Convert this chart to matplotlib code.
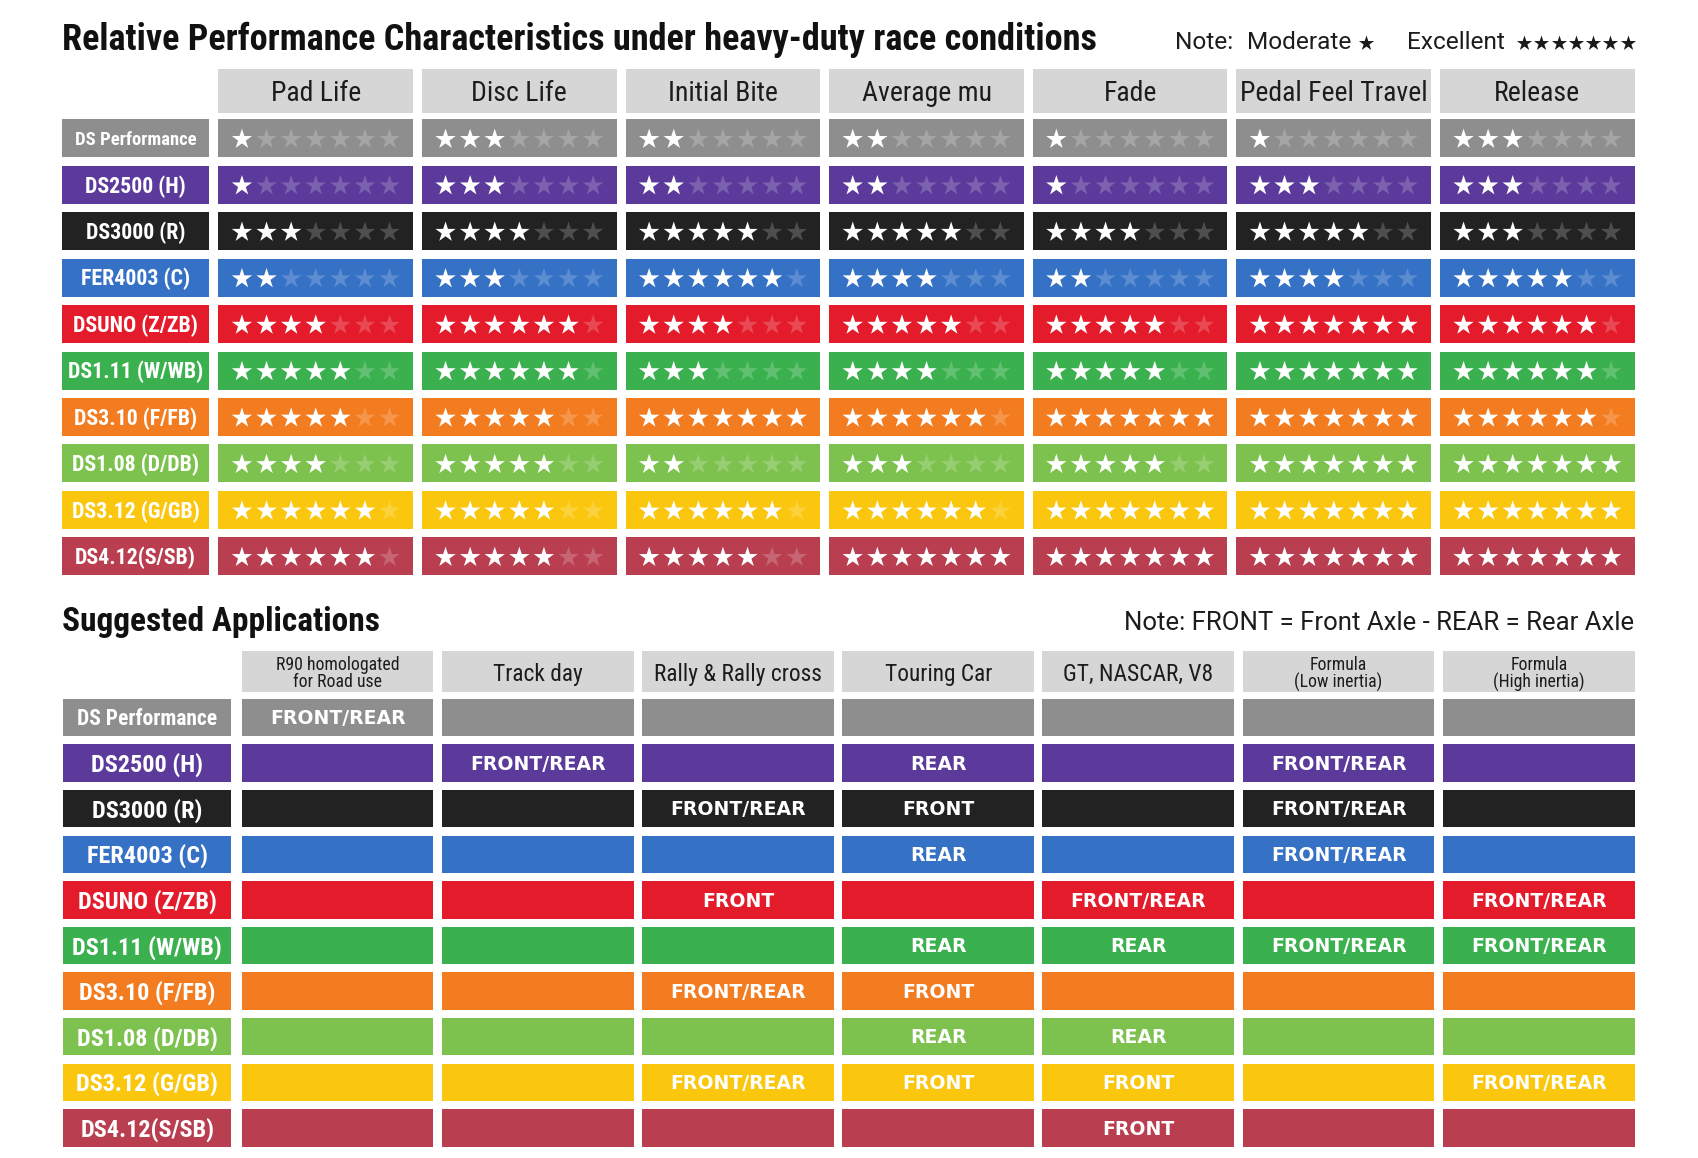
import matplotlib
matplotlib.use('Agg')
import matplotlib.pyplot as plt
from matplotlib import font_manager as fm
from matplotlib.patches import Rectangle
from matplotlib.colors import to_rgb
import numpy as np

# ---------------- data ----------------
compounds = ['DS Performance', 'DS2500 (H)', 'DS3000 (R)', 'FER4003 (C)', 'DSUNO (Z/ZB)',
             'DS1.11 (W/WB)', 'DS3.10 (F/FB)', 'DS1.08 (D/DB)', 'DS3.12 (G/GB)', 'DS4.12(S/SB)']
compound_colors = ['#8e8e8e', '#5b3a9b', '#222222', '#3571c5', '#e41b2b',
                   '#3bb04f', '#f47c20', '#7dc24f', '#fac70e', '#b83e50']

metrics = ['Pad Life', 'Disc Life', 'Initial Bite', 'Average mu', 'Fade',
           'Pedal Feel Travel', 'Release']
pad_life = [1, 1, 3, 2, 4, 5, 5, 4, 6, 6]
disc_life = [3, 3, 4, 3, 6, 6, 5, 5, 5, 5]
initial_bite = [2, 2, 5, 6, 4, 3, 7, 2, 6, 5]
average_mu = [2, 2, 5, 4, 5, 4, 6, 3, 6, 7]
fade = [1, 1, 4, 2, 5, 5, 7, 5, 7, 7]
pedal_feel_travel = [1, 3, 5, 4, 7, 7, 7, 7, 7, 7]
release = [3, 3, 3, 5, 6, 6, 6, 7, 7, 7]
ratings = [pad_life, disc_life, initial_bite, average_mu, fade, pedal_feel_travel, release]
max_stars = 7

applications = ['R90 homologated\nfor Road use', 'Track day', 'Rally & Rally cross',
                'Touring Car', 'GT, NASCAR, V8', 'Formula\n(Low inertia)',
                'Formula\n(High inertia)']
r90_road = ['FRONT/REAR', '', '', '', '', '', '', '', '', '']
track_day = ['', 'FRONT/REAR', '', '', '', '', '', '', '', '']
rally_cross = ['', '', 'FRONT/REAR', '', 'FRONT', '', 'FRONT/REAR', '', 'FRONT/REAR', '']
touring_car = ['', 'REAR', 'FRONT', 'REAR', '', 'REAR', 'FRONT', 'REAR', 'FRONT', '']
gt_nascar_v8 = ['', '', '', '', 'FRONT/REAR', 'REAR', '', 'REAR', 'FRONT', 'FRONT']
formula_low = ['', 'FRONT/REAR', 'FRONT/REAR', 'FRONT/REAR', '', 'FRONT/REAR', '', '', '', '']
formula_high = ['', '', '', '', 'FRONT/REAR', 'FRONT/REAR', '', '', 'FRONT/REAR', '']
app_values = [r90_road, track_day, rally_cross, touring_car, gt_nascar_v8, formula_low, formula_high]

title_top = 'Relative Performance Characteristics under heavy-duty race conditions'
title_bottom = 'Suggested Applications'
note_bottom = 'Note: FRONT = Front Axle - REAR = Rear Axle'

# ---------------- figure ----------------
W, H, DPI = 1698, 1158, 100
fig = plt.figure(figsize=(W / DPI, H / DPI), dpi=DPI)
fig.patch.set_facecolor('white')
ax = fig.add_axes([0, 0, 1, 1])
ax.set_xlim(0, W)
ax.set_ylim(H, 0)
ax.axis('off')
renderer = fig.canvas.get_renderer()

names = {f.name for f in fm.fontManager.ttflist}


def pick(cands):
    for c in cands:
        if c in names:
            return c
    return 'DejaVu Sans'


COND = pick(['Liberation Sans Narrow', 'Roboto Condensed', 'DejaVu Sans'])
STRETCH = 'condensed' if COND == 'DejaVu Sans' else 'normal'
REG = pick(['Roboto', 'Liberation Sans', 'DejaVu Sans'])
WIDE = 'DejaVu Sans'
PX = DPI / 72.0


def fit_size(s, target_w, maxsize, weight='normal', family=COND, stretch=STRETCH):
    widest = 0
    for line in s.split('\n'):
        t = ax.text(0, 0, line, fontsize=10, fontfamily=family, fontstretch=stretch,
                    fontweight=weight)
        widest = max(widest, t.get_window_extent(renderer).width)
        t.remove()
    return min(maxsize, 10.0 * target_w / widest)


def put(x, cy, s, size, weight='normal', color='white', ha='center',
        family=COND, stretch=STRETCH, gap=None):
    lines = s.split('\n')
    cap = 0.72 * size * PX
    if gap is None:
        gap = 1.18 * size * PX
    n = len(lines)
    for k, line in enumerate(lines):
        yb = cy + cap / 2 + (k - (n - 1) / 2) * gap
        ax.text(x, yb, line, fontsize=size, fontfamily=family, fontstretch=stretch,
                fontweight=weight, color=color, ha=ha, va='baseline')


def tint(c, a=0.2):
    r = np.array(to_rgb(c))
    return tuple(r + (1 - r) * a)


HEAD_BG = '#d6d6d6'
TXT = '#1c1c1c'

# ---------------- top table ----------------
t_col_x0, t_col_pitch, t_col_w = 218.5, 203.6, 194.5
t_head_y0, t_head_h = 69.0, 44.0
t_row_y0, t_row_pitch, t_row_h = 119.3, 46.45, 38.0
t_lab_x0, t_lab_w = 62.0, 147.0
star_pitch = 24.6
star_ms = 15.4

s_title = fit_size(title_top, 1035, 27, weight='bold')
ax.text(62, 50, title_top, fontsize=s_title, fontfamily=COND, fontstretch=STRETCH,
        fontweight='bold', color='#111111', ha='left', va='baseline')

# note with star legend
s_note = fit_size('Moderate', 104, 19, family=REG, stretch='normal')
for xl, word in [(1175, 'Note:'), (1247, 'Moderate'), (1407, 'Excellent')]:
    ax.text(xl, 49, word, fontsize=s_note, fontfamily=REG, color=TXT,
            ha='left', va='baseline')
ax.scatter([1366], [43], marker='*', s=11.5 ** 2, color='#1a1a1a', linewidths=0)
ax.scatter(1524 + np.arange(max_stars) * 17.3, np.full(max_stars, 43.0), marker='*',
           s=11.5 ** 2, color='#1a1a1a', linewidths=0)

s_head = fit_size('Pedal Feel Travel', 198, 20)
for j, m in enumerate(metrics):
    x = t_col_x0 + j * t_col_pitch
    ax.add_patch(Rectangle((x, t_head_y0), t_col_w, t_head_h, facecolor=HEAD_BG, edgecolor='none'))
    put(x + t_col_w / 2, t_head_y0 + t_head_h / 2, m, s_head, color=TXT)

s_lab = fit_size('DS1.11 (W/WB)', 136, 16.5, weight='bold')
s_lab0 = fit_size('DS Performance', 121, 13.5, weight='bold')
for i, name in enumerate(compounds):
    y = t_row_y0 + i * t_row_pitch
    col = compound_colors[i]
    ax.add_patch(Rectangle((t_lab_x0, y), t_lab_w, t_row_h, facecolor=col, edgecolor='none'))
    put(t_lab_x0 + t_lab_w / 2, y + t_row_h / 2, name, s_lab0 if i == 0 else s_lab,
        weight='bold', color='white')
    for j, series in enumerate(ratings):
        x = t_col_x0 + j * t_col_pitch
        ax.add_patch(Rectangle((x, y), t_col_w, t_row_h, facecolor=col, edgecolor='none'))
        xs = x + t_col_w / 2 + (np.arange(max_stars) - (max_stars - 1) / 2) * star_pitch
        cols = ['white' if k < series[i] else tint(col) for k in range(max_stars)]
        ax.scatter(xs, np.full(max_stars, y + t_row_h / 2 + 1), marker='*',
                   s=star_ms ** 2, c=cols, linewidths=0, zorder=3)

# ---------------- bottom table ----------------
b_col_x0, b_col_pitch, b_col_w = 241.7, 200.2, 191.8
b_head_y0, b_head_h = 650.7, 41.7
b_row_y0, b_row_pitch, b_row_h = 698.7, 45.6, 37.4
b_lab_x0, b_lab_w = 62.9, 168.5
# text width of the two-line headers (layout, px)
two_line_w = {'R90 homologated\nfor Road use': 136,
              'Formula\n(Low inertia)': 114,
              'Formula\n(High inertia)': 122}

s_title2 = fit_size(title_bottom, 340, 24, weight='bold')
ax.text(62, 631, title_bottom, fontsize=s_title2, fontfamily=COND, fontstretch=STRETCH,
        fontweight='bold', color='#111111', ha='left', va='baseline')
s_note2 = fit_size(note_bottom, 508, 19, family=REG, stretch='normal')
ax.text(1634, 630, note_bottom, fontsize=s_note2, fontfamily=REG,
        color=TXT, ha='right', va='baseline')

s_ah1 = fit_size('Rally & Rally cross', 172, 16.8)
for j, a in enumerate(applications):
    x = b_col_x0 + j * b_col_pitch
    ax.add_patch(Rectangle((x, b_head_y0), b_col_w, b_head_h, facecolor=HEAD_BG, edgecolor='none'))
    if '\n' in a:
        s2 = fit_size(a, two_line_w[a], 12.8)
        put(x + b_col_w / 2, b_head_y0 + b_head_h / 2 + 1, a, s2, color=TXT, gap=17.0)
    else:
        put(x + b_col_w / 2, b_head_y0 + b_head_h / 2 + 1, a, s_ah1, color=TXT)

s_blab = fit_size('DS1.11 (W/WB)', 154, 17.5, weight='bold')
s_blab0 = fit_size('DS Performance', 140, 15.5, weight='bold')
s_cell = fit_size('FRONT/REAR', 136, 15, weight='bold', family=WIDE, stretch='normal')
for i, name in enumerate(compounds):
    y = b_row_y0 + i * b_row_pitch
    col = compound_colors[i]
    ax.add_patch(Rectangle((b_lab_x0, y), b_lab_w, b_row_h, facecolor=col, edgecolor='none'))
    put(b_lab_x0 + b_lab_w / 2, y + b_row_h / 2, name, s_blab0 if i == 0 else s_blab,
        weight='bold', color='white')
    for j, series in enumerate(app_values):
        x = b_col_x0 + j * b_col_pitch
        ax.add_patch(Rectangle((x, y), b_col_w, b_row_h, facecolor=col, edgecolor='none'))
        if series[i]:
            put(x + b_col_w / 2, y + b_row_h / 2, series[i], s_cell, weight='bold',
                color='white', family=WIDE, stretch='normal')

fig.savefig('out.png', dpi=DPI, facecolor='white')
